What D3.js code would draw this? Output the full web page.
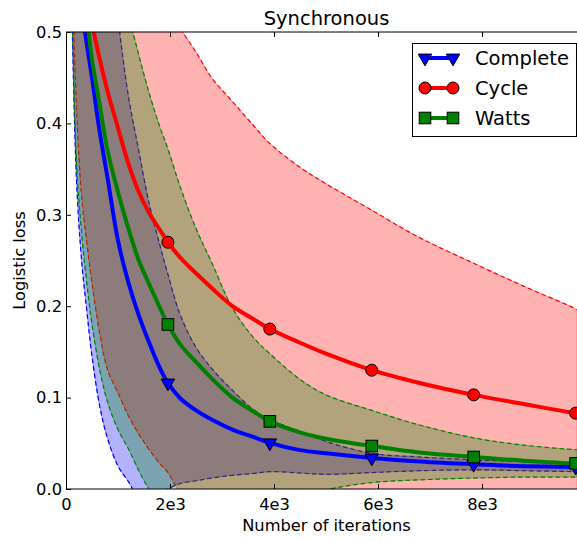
<!DOCTYPE html>
<html>
<head>
<meta charset="utf-8">
<script src="https://cdnjs.cloudflare.com/ajax/libs/d3/7.8.5/d3.min.js"></script>
<style>
body { margin: 0; background: #fff; }
text { font-family: "DejaVu Sans", sans-serif; fill: #000; }
</style>
</head>
<body>
<div id="chart"></div>
<script>
// values
var iterations = [100, 200, 300, 400, 500, 650, 800, 1000, 1200, 1400, 1600, 1800, 1960, 2200, 2500, 2800, 3200, 3600, 3920, 4500, 5000, 5880, 6800, 7840, 8800, 9800, 9820];

var completeMean = [0.8, 0.66, 0.53, 0.487, 0.45, 0.39, 0.34, 0.272, 0.226, 0.19, 0.16, 0.133, 0.116, 0.099, 0.086, 0.076, 0.065, 0.057, 0.0505, 0.0425, 0.039, 0.034, 0.03, 0.027, 0.025, 0.024, 0.024];
var completeHigh = [0.95, 0.9, 0.85, 0.8, 0.76, 0.7, 0.62, 0.515, 0.43, 0.37, 0.312, 0.268, 0.235, 0.19, 0.155, 0.132, 0.108, 0.087, 0.076, 0.063, 0.052, 0.039, 0.035, 0.032, 0.03, 0.028, 0.028];
var completeLow = [0.56, 0.34, 0.25, 0.195, 0.145, 0.09, 0.055, 0.025, 0.008, -0.01, -0.015, -0.006, 0.0, 0.006, 0.009, 0.012, 0.015, 0.017, 0.019, 0.0175, 0.016, 0.018, 0.02, 0.021, 0.02, 0.019, 0.019];

var cycleMean = [0.9, 0.76, 0.64, 0.56, 0.51, 0.47, 0.435, 0.395, 0.356, 0.325, 0.302, 0.284, 0.27, 0.253, 0.236, 0.22, 0.2, 0.186, 0.175, 0.16, 0.148, 0.13, 0.116, 0.103, 0.093, 0.083, 0.083];
var cycleHigh = [1.2, 1.1, 1.0, 0.92, 0.86, 0.8, 0.75, 0.69, 0.64, 0.6, 0.565, 0.537, 0.52, 0.503, 0.478, 0.45, 0.424, 0.398, 0.378, 0.352, 0.334, 0.305, 0.275, 0.247, 0.222, 0.197, 0.196];
var cycleLow = [0.6, 0.42, 0.32, 0.27, 0.225, 0.17, 0.13, 0.105, 0.08, 0.06, 0.043, 0.028, 0.018, -0.003, -0.01, -0.01, -0.02, -0.025, -0.028, -0.032, -0.038, -0.045, -0.043, -0.041, -0.036, -0.031, -0.031];

var wattsMean = [0.85, 0.68, 0.58, 0.52, 0.47, 0.42, 0.37, 0.325, 0.285, 0.25, 0.224, 0.199, 0.18, 0.158, 0.139, 0.121, 0.1, 0.085, 0.074, 0.062, 0.055, 0.047, 0.04, 0.035, 0.031, 0.028, 0.028];
var wattsHigh = [1.0, 0.95, 0.9, 0.85, 0.8, 0.72, 0.66, 0.58, 0.52, 0.475, 0.433, 0.397, 0.372, 0.33, 0.285, 0.248, 0.198, 0.166, 0.148, 0.12, 0.103, 0.086, 0.07, 0.056, 0.048, 0.043, 0.043];
var wattsLow = [0.58, 0.36, 0.28, 0.225, 0.18, 0.13, 0.095, 0.065, 0.044, 0.02, -0.001, -0.02, -0.03, -0.04, -0.045, -0.045, -0.04, -0.03, -0.022, -0.01, -0.001, 0.007, 0.01, 0.012, 0.013, 0.013, 0.013];

var markerIters = [1960, 3920, 5880, 7840, 9800];
var seriesNames = ["Complete", "Cycle", "Watts"];
var seriesColors = ["#0000ff", "#ff0000", "#008000"];

var xTicks = [0, 2000, 4000, 6000, 8000];
var xTickLabels = ["0", "2e3", "4e3", "6e3", "8e3"];
var yTicks = [0, 0.1, 0.2, 0.3, 0.4, 0.5];
var yTickLabels = ["0.0", "0.1", "0.2", "0.3", "0.4", "0.5"];

var margin = { top: 32, left: 66 };
var width = 520;
var height = 457;

var svg = d3.select("#chart")
  .append("svg")
  .attr("width", 577)
  .attr("height", 541);

var g = svg.append("g")
  .attr("transform", "translate(" + margin.left + "," + margin.top + ")");

var x = d3.scaleLinear().domain([0, 10000]).range([0, width]);
var y = d3.scaleLinear().domain([0, 0.5]).range([height, 0]);

var series = [
  { name: seriesNames[0], color: seriesColors[0], mean: completeMean, low: completeLow, high: completeHigh, shape: "tri" },
  { name: seriesNames[1], color: seriesColors[1], mean: cycleMean, low: cycleLow, high: cycleHigh, shape: "circle" },
  { name: seriesNames[2], color: seriesColors[2], mean: wattsMean, low: wattsLow, high: wattsHigh, shape: "square" }
];

g.append("clipPath").attr("id", "plotclip")
  .append("rect").attr("width", width).attr("height", height);

var plot = g.append("g").attr("clip-path", "url(#plotclip)");

var smooth = d3.curveCatmullRom.alpha(0.5);

var area = d3.area()
  .x(function(d, i) { return x(iterations[i]); })
  .curve(smooth);

function lineOf(arr) {
  return d3.line()
    .x(function(d, i) { return x(iterations[i]); })
    .y(function(d) { return y(d); })
    .curve(smooth)(arr);
}

// bands and their dashed edges
series.forEach(function(s) {
  plot.append("path")
    .attr("d", area.y0(function(d, i) { return y(s.low[i]); })
      .y1(function(d, i) { return y(s.high[i]); })(s.mean))
    .attr("fill", s.color)
    .attr("fill-opacity", 0.3)
    .attr("stroke", s.color)
    .attr("stroke-opacity", 0.3)
    .attr("stroke-width", 1);
  [s.low, s.high].forEach(function(arr) {
    plot.append("path")
      .attr("d", lineOf(arr))
      .attr("fill", "none")
      .attr("stroke", s.color)
      .attr("stroke-width", 1.2)
      .attr("stroke-dasharray", "4.5,3");
  });
});

function marker(sel, shape, color) {
  if (shape === "circle") {
    sel.append("circle").attr("r", 6);
  } else if (shape === "square") {
    sel.append("rect").attr("x", -5.8).attr("y", -5.8).attr("width", 11.6).attr("height", 11.6);
  } else {
    sel.append("path").attr("d", d3.symbol().type(d3.symbolTriangle).size(80)()).attr("transform", "rotate(180)");
  }
  sel.selectAll("*")
    .attr("fill", color)
    .attr("stroke", "#000")
    .attr("stroke-width", 1);
}

// mean lines with markers
series.forEach(function(s) {
  plot.append("path")
    .attr("d", lineOf(s.mean))
    .attr("fill", "none")
    .attr("stroke", s.color)
    .attr("stroke-width", 4);
  markerIters.forEach(function(it) {
    var i = iterations.indexOf(it);
    var m = plot.append("g")
      .attr("transform", "translate(" + x(it) + "," + y(s.mean[i]) + ")");
    marker(m, s.shape, s.color);
  });
});

// axes, ticks pointing inward
g.append("g")
  .attr("transform", "translate(0," + height + ")")
  .call(d3.axisBottom(x).tickValues(xTicks)
    .tickFormat(function(d, i) { return xTickLabels[i]; })
    .tickSizeInner(-5).tickSizeOuter(0).tickPadding(9.5));
g.append("g")
  .call(d3.axisTop(x).tickValues(xTicks).tickFormat("").tickSizeInner(-5).tickSizeOuter(0));
g.append("g")
  .call(d3.axisLeft(y).tickValues(yTicks)
    .tickFormat(function(d, i) { return yTickLabels[i]; })
    .tickSizeInner(-5).tickSizeOuter(0).tickPadding(4));
g.append("g")
  .attr("transform", "translate(" + width + ",0)")
  .call(d3.axisRight(y).tickValues(yTicks).tickFormat("").tickSizeInner(-5).tickSizeOuter(0));

g.selectAll(".domain").remove();
g.selectAll(".tick line").attr("stroke", "#000");
g.selectAll(".tick text")
  .style("font-family", "DejaVu Sans")
  .style("font-size", "16.3px");

g.append("rect")
  .attr("x", 0.5).attr("y", 0)
  .attr("width", width).attr("height", height)
  .attr("fill", "none")
  .attr("stroke", "#000")
  .attr("stroke-width", 1);

// titles
svg.append("text")
  .attr("x", 326.5).attr("y", 24.5)
  .attr("text-anchor", "middle")
  .style("font-size", "19.5px")
  .text("Synchronous");

svg.append("text")
  .attr("x", 326.5).attr("y", 531)
  .attr("text-anchor", "middle")
  .style("font-size", "16.3px")
  .text("Number of iterations");

svg.append("text")
  .attr("transform", "translate(25," + (margin.top + height / 2) + ") rotate(-90)")
  .attr("text-anchor", "middle")
  .style("font-size", "16.3px")
  .text("Logistic loss");

// legend
var legend = svg.append("g");
legend.append("rect")
  .attr("x", 412.5).attr("y", 43.5)
  .attr("width", 164).attr("height", 93)
  .attr("fill", "#fff")
  .attr("stroke", "#000")
  .attr("stroke-width", 1);

series.forEach(function(s, i) {
  var row = legend.append("g").attr("transform", "translate(0," + (58 + i * 30) + ")");
  row.append("line")
    .attr("x1", 425).attr("x2", 453)
    .attr("stroke", s.color)
    .attr("stroke-width", 4);
  [425, 453].forEach(function(px) {
    marker(row.append("g").attr("transform", "translate(" + px + ",0)"), s.shape, s.color);
  });
  row.append("text")
    .attr("x", 475).attr("y", 7)
    .style("font-size", "19.5px")
    .text(s.name);
});
</script>
</body>
</html>
